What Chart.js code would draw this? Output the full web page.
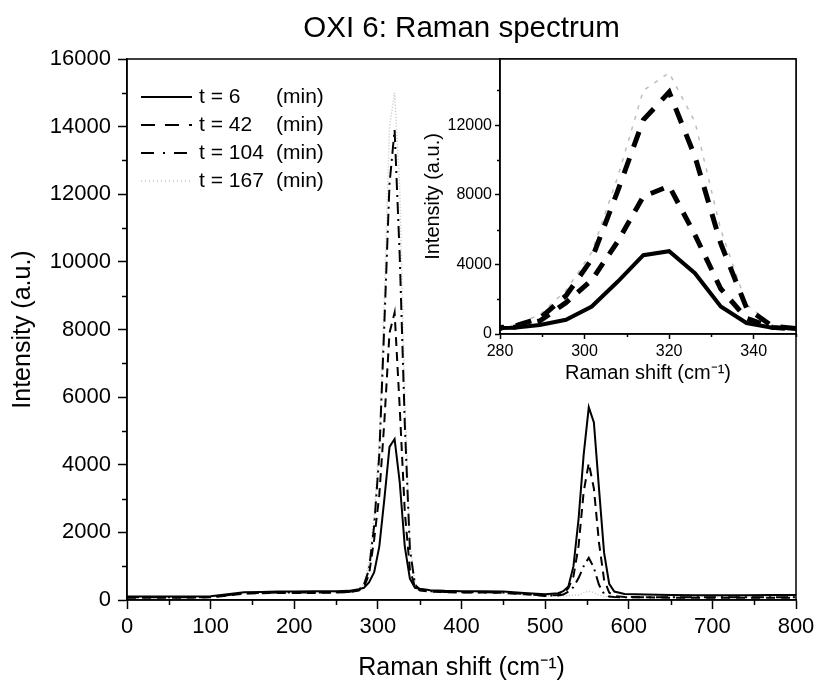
<!DOCTYPE html>
<html>
<head>
<meta charset="utf-8">
<title>OXI 6: Raman spectrum</title>
<script src="https://cdn.jsdelivr.net/npm/chart.js@4.4.1/dist/chart.umd.min.js"></script>
<style>
  html, body { margin: 0; padding: 0; background: #fff; }
  #wrap { position: relative; width: 816px; height: 684px; }
  #mainChart { position: absolute; left: 0; top: 0; }
  #insetChart { position: absolute; left: 415px; top: 50px; }
</style>
</head>
<body>
<div id="wrap">
  <canvas id="mainChart" width="816" height="684"></canvas>
  <canvas id="insetChart" width="401" height="350"></canvas>
</div>
<script>
// Raman shift (cm-1) - ortak x ekseni
const shift = [0, 25, 50, 75, 100, 120, 140, 160, 180, 200, 225, 250, 265, 277.2, 283.3, 289.4, 295.6, 301.7, 307.8, 313.9, 320, 326.1, 332.2, 338.3, 344.4, 350.5, 362.7, 380, 400, 425, 450, 475, 500, 515.6, 521.7, 527.8, 533.9, 540, 546.1, 552.2, 558.3, 564.4, 570.5, 576.6, 582.7, 595, 620, 650, 680, 710, 740, 770, 800];

// Intensity (a.u.) - her ölçüm zamanı için
const t6   = [100, 100, 100, 100, 110, 170, 230, 240, 250, 250, 260, 260, 270, 320, 360, 520, 820, 1580, 3000, 4530, 4760, 3490, 1580, 630, 360, 330, 290, 270, 260, 260, 250, 210, 170, 200, 260, 400, 1000, 2400, 4300, 5700, 5250, 3300, 1400, 480, 250, 180, 160, 150, 140, 140, 140, 150, 150];
const t42  = [70, 70, 70, 70, 80, 130, 190, 200, 210, 210, 210, 220, 230, 280, 380, 750, 1800, 3100, 5300, 7900, 8500, 5700, 2600, 900, 380, 280, 250, 230, 220, 220, 210, 170, 120, 150, 200, 350, 700, 1600, 3200, 4050, 3300, 1700, 600, 220, 120, 90, 80, 70, 70, 70, 70, 70, 70];
const t104 = [80, 80, 80, 80, 90, 140, 200, 210, 220, 220, 220, 230, 240, 300, 450, 900, 2200, 4300, 8200, 12300, 13900, 10200, 5200, 1500, 450, 300, 260, 240, 230, 230, 220, 180, 130, 130, 160, 250, 380, 650, 1000, 1250, 950, 450, 180, 100, 90, 80, 80, 80, 80, 80, 80, 80, 80];
const t167 = [90, 90, 90, 90, 100, 150, 210, 220, 230, 230, 230, 240, 250, 330, 500, 1100, 2500, 4700, 9000, 14000, 15000, 12200, 6000, 1700, 500, 320, 270, 250, 240, 240, 230, 190, 140, 120, 120, 130, 140, 150, 220, 260, 220, 150, 100, 90, 90, 90, 90, 90, 90, 90, 90, 90, 90];

const seriesLabels = ['t = 6', 't = 42', 't = 104', 't = 167'];
const seriesUnit = '(min)';

// eksen tikleri
const mainXTicks = [0, 100, 200, 300, 400, 500, 600, 700, 800];
const mainYTicks = [0, 2000, 4000, 6000, 8000, 10000, 12000, 14000, 16000];
const mainXMinor = [50, 150, 250, 350, 450, 550, 650, 750];
const mainYMinor = [1000, 3000, 5000, 7000, 9000, 11000, 13000, 15000];
const insetXTicks = [280, 300, 320, 340];
const insetYTicks = [0, 4000, 8000, 12000];
const insetXMinor = [290, 310, 330, 350];
const insetYMinor = [2000, 6000, 10000, 14000];

const FONT = '"Liberation Sans", Arial, Helvetica, sans-serif';
Chart.defaults.font.family = FONT;
Chart.defaults.color = '#000';

function pts(ys) { return shift.map((x, i) => ({ x: x, y: ys[i] })); }

// çizgi stilleri (ana grafik / iç grafik)
function makeDatasets(big) {
    return [
        { label: seriesLabels[0], data: pts(t6),   borderColor: '#000', borderWidth: big ? 4 : 2, borderDash: [], legendDash: [] },
        { label: seriesLabels[1], data: pts(t42),  borderColor: '#000', borderWidth: big ? 5 : 2, borderDash: big ? [14, 11] : [9, 6], legendDash: [14, 10] },
        { label: seriesLabels[2], data: pts(t104), borderColor: '#000', borderWidth: big ? 5 : 2, borderDash: big ? [16, 12] : [12, 5, 2, 5], legendDash: [13, 9, 2, 9] },
        { label: seriesLabels[3], data: pts(t167), borderColor: big ? '#bdbdbd' : '#c4c4c4', borderWidth: 1.5, borderDash: big ? [4, 7] : [1, 2], legendDash: [1, 3] }
    ].map(d => Object.assign(d, { pointRadius: 0, tension: 0, fill: false }));
}

// çerçeve + ara tikler
const framePlugin = {
    id: 'frame',
    beforeDraw(chart, args, opts) {
        if (!opts.whiteBg) return;
        const a = chart.chartArea;
        chart.ctx.save();
        chart.ctx.fillStyle = '#fff';
        chart.ctx.fillRect(a.left, a.top, a.right - a.left, a.bottom - a.top);
        chart.ctx.restore();
    },
    afterDraw(chart, args, opts) {
        const { ctx, chartArea: a, scales: { x, y } } = chart;
        ctx.save();
        ctx.strokeStyle = '#000';
        ctx.lineWidth = opts.lineWidth;
        ctx.strokeRect(a.left, a.top, a.right - a.left, a.bottom - a.top);
        ctx.beginPath();
        opts.xMinor.forEach(v => {
            const px = Math.round(x.getPixelForValue(v)) + 0.5;
            ctx.moveTo(px, a.bottom); ctx.lineTo(px, a.bottom + opts.minorLen);
        });
        opts.yMinor.forEach(v => {
            const py = Math.round(y.getPixelForValue(v)) + 0.5;
            ctx.moveTo(a.left, py); ctx.lineTo(a.left - opts.minorLen, py);
        });
        ctx.stroke();
        ctx.restore();
    }
};

// grafik içindeki lejant
const legendPlugin = {
    id: 'innerLegend',
    afterDatasetsDraw(chart, args, opts) {
        if (!opts.show) return;
        const { ctx, chartArea: a } = chart;
        ctx.save();
        ctx.font = '21px ' + FONT;
        ctx.textBaseline = 'middle';
        chart.data.datasets.forEach((ds, i) => {
            const y = a.top + 38 + i * 28;
            ctx.strokeStyle = ds.borderColor;
            ctx.lineWidth = ds.borderWidth;
            ctx.setLineDash(ds.legendDash);
            ctx.beginPath();
            ctx.moveTo(a.left + 14, y);
            ctx.lineTo(a.left + 65, y);
            ctx.stroke();
            ctx.setLineDash([]);
            ctx.fillStyle = '#000';
            ctx.fillText(ds.label, a.left + 72, y);
            ctx.fillText(seriesUnit, a.left + 149, y);
        });
        ctx.restore();
    }
};

function axis(o) {
    return {
        type: 'linear', min: o.min, max: o.max,
        afterBuildTicks: s => { s.ticks = o.ticks.map(v => ({ value: v })); },
        afterFit: s => {
            if (o.w) s.width = o.w;
            if (o.h) s.height = o.h;
            s.paddingLeft = 0; s.paddingRight = 0; s.paddingTop = 0; s.paddingBottom = 0;
        },
        ticks: { autoSkip: false, maxRotation: 0, padding: o.pad, font: { size: o.fs }, color: '#000', callback: v => String(v) },
        grid: { drawOnChartArea: false, drawTicks: true, tickLength: o.tl, tickWidth: 1.5, tickColor: '#000' },
        border: { display: true, color: '#000', width: 1.5 },
        title: { display: true, text: o.title, font: { size: o.ts }, color: '#000', padding: { top: o.tp, bottom: o.tp } }
    };
}

new Chart(document.getElementById('mainChart'), {
    type: 'line',
    data: { datasets: makeDatasets(false) },
    options: {
        responsive: false, animation: false, devicePixelRatio: 1,
        layout: { padding: { left: 0, right: 20, top: 0, bottom: 0 } },
        scales: {
            x: axis({ min: 0, max: 800, ticks: mainXTicks, h: 84, pad: 5, fs: 22, tl: 9, title: 'Raman shift (cm\u207B\u00B9)', ts: 25, tp: 1 }),
            y: axis({ min: 0, max: 16000, ticks: mainYTicks, w: 127, pad: 7, fs: 22, tl: 9, title: 'Intensity (a.u.)', ts: 25, tp: 8 })
        },
        plugins: {
            legend: { display: false },
            tooltip: { enabled: false },
            title: { display: true, fullSize: false, text: 'OXI 6: Raman spectrum', color: '#000', font: { size: 29.5, weight: 'normal' }, padding: { top: 11, bottom: 12.6 } },
            frame: { lineWidth: 1.5, minorLen: 5, xMinor: mainXMinor, yMinor: mainYMinor },
            innerLegend: { show: true }
        }
    },
    plugins: [framePlugin, legendPlugin]
});

new Chart(document.getElementById('insetChart'), {
    type: 'line',
    data: { datasets: makeDatasets(true) },
    options: {
        responsive: false, animation: false, devicePixelRatio: 1,
        layout: { padding: { left: 0, right: 20, top: 9, bottom: 0 } },
        scales: {
            x: axis({ min: 280, max: 350, ticks: insetXTicks, h: 66, pad: 3, fs: 16, tl: 5, title: 'Raman shift (cm\u207B\u00B9)', ts: 20, tp: 15 }),
            y: axis({ min: 0, max: 15800, ticks: insetYTicks, w: 85, pad: 3, fs: 16, tl: 5, title: 'Intensity (a.u.)', ts: 20, tp: 6 })
        },
        plugins: {
            legend: { display: false },
            tooltip: { enabled: false },
            frame: { whiteBg: true, lineWidth: 1.5, minorLen: 3, xMinor: insetXMinor, yMinor: insetYMinor },
            innerLegend: { show: false }
        }
    },
    plugins: [framePlugin, legendPlugin]
});
</script>
</body>
</html>
